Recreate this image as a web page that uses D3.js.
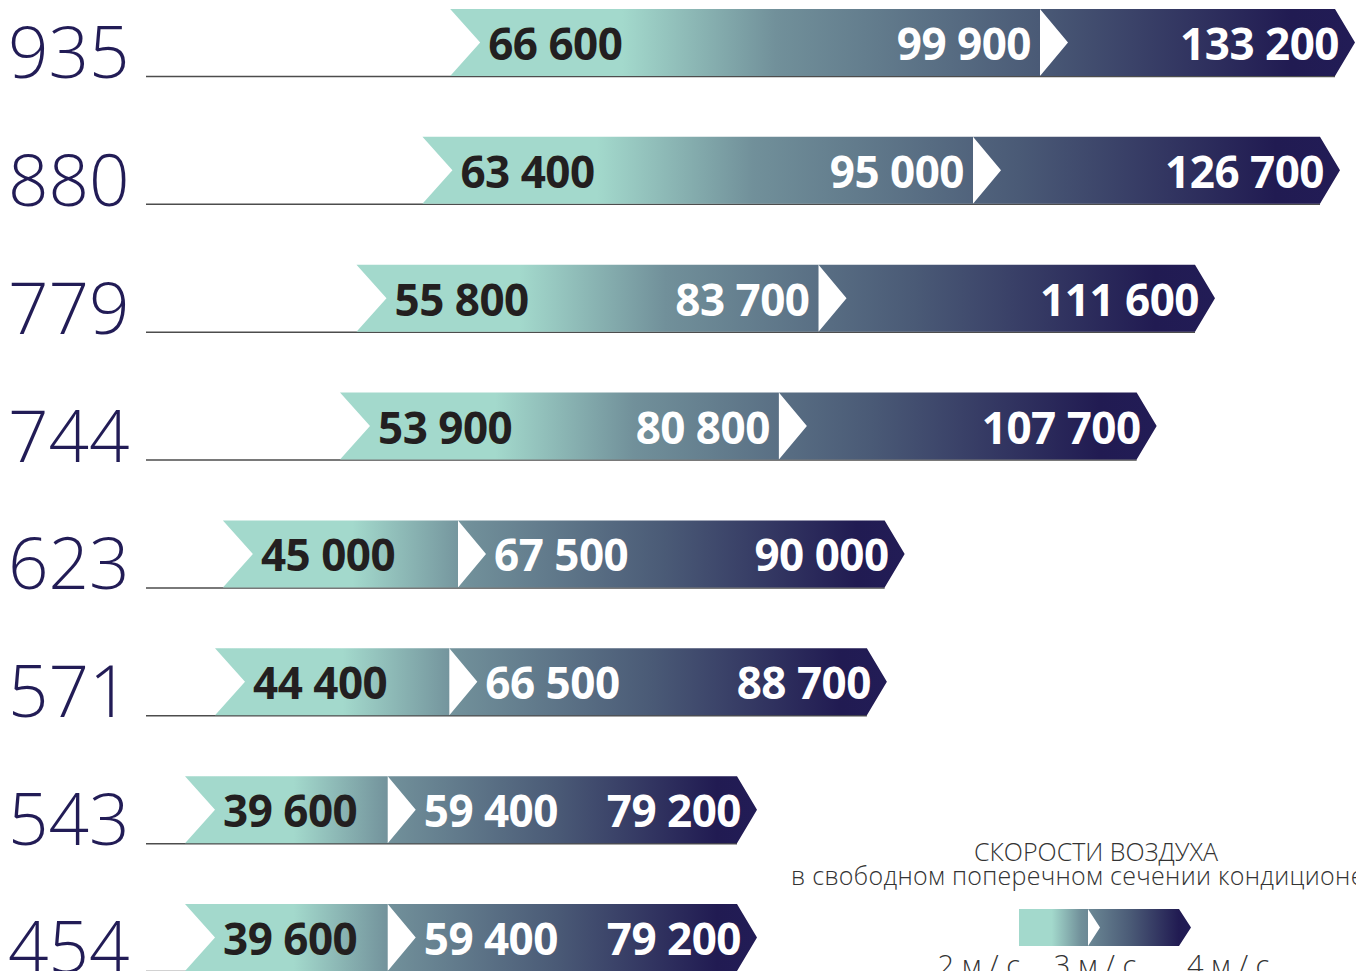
<!DOCTYPE html>
<html lang="ru">
  <head>
    <meta charset="UTF-8" />
    <title>Скорости воздуха</title>
    <style>
      body {
        margin: 0;
        background: #fff;
        font-family: 'Open Sans', 'Noto Sans', sans-serif;
      }
      svg {
        display: block;
      }
      .model-label {
        font-size: 71px;
        font-weight: 300;
        fill: #221c56;
      }
      .value-label {
        font-size: 44px;
        font-weight: 700;
        letter-spacing: -0.5px;
      }
      .legend-text {
        fill: #333;
        font-weight: 300;
      }
    </style>
  </head>
  <body>
    <script src="https://d3js.org/d3.v7.min.js"></script>
    <script>
      // модели (типоразмер) и расход воздуха при 2, 3 и 4 м/с
      const models = ['935', '880', '779', '744', '623', '571', '543', '454'];
      const flow2 = [66600, 63400, 55800, 53900, 45000, 44400, 39600, 39600];
      const flow3 = [99900, 95000, 83700, 80800, 67500, 66500, 59400, 59400];
      const flow4 = [133200, 126700, 111600, 107700, 90000, 88700, 79200, 79200];
      const speeds = [2, 3, 4];
      const speedLabels = ['2 м / с', '3 м / с', '4 м / с'];
      const legendTitle = 'СКОРОСТИ ВОЗДУХА';
      const legendSubtitle = 'в свободном поперечном сечении кондиционера';

      const width = 1356;
      const height = 971;
      const barHeight = 67;
      const notch = 30;
      const midNotch = 28;
      const tipLen = 20;

      const rows = models.map((m, i) => ({ model: m, v2: flow2[i], v3: flow3[i], v4: flow4[i] }));

      // шкала не линейная - как на макете
      const x = d3
        .scaleLinear()
        .domain([39600, 44400, 53900, 67500, 79200, 99900, 111600, 126700, 133200])
        .range([185, 215, 340, 458, 757, 1040, 1215, 1340, 1355]);

      const y = d3.scalePoint().domain(models).range([9, 904]);

      const fmt = (v) => d3.format(',')(v).replace(/,/g, ' ');

      const gradStops = [
        [0, '#a3d9cc'],
        [0.19, '#a3d9cc'],
        [0.36, '#71909a'],
        [0.65, '#4a5a76'],
        [0.93, '#211b52'],
        [1, '#221c56'],
      ];

      const svg = d3.select('body').append('svg').attr('width', width).attr('height', height);
      const defs = svg.append('defs');

      const addGradient = (id, x1, x2) => {
        defs
          .append('linearGradient')
          .attr('id', id)
          .attr('gradientUnits', 'userSpaceOnUse')
          .attr('x1', x1)
          .attr('x2', x2)
          .attr('y1', 0)
          .attr('y2', 0)
          .selectAll('stop')
          .data(gradStops)
          .join('stop')
          .attr('offset', (d) => d[0])
          .attr('stop-color', (d) => d[1]);
      };

      const seg1Path = (s, m, top, h, n) =>
        `M${s},${top}L${m},${top}L${m},${top + h}L${s},${top + h}L${s + n},${top + h / 2}Z`;
      const seg2Path = (m, t, top, h, n, tl) =>
        `M${m},${top}L${t - tl},${top}L${t},${top + h / 2}L${t - tl},${top + h}L${m},${top + h}L${m + n},${top + h / 2}Z`;

      const rowG = svg
        .selectAll('g.row')
        .data(rows)
        .join('g')
        .attr('class', 'row');

      rowG.each(function (d, i) {
        const g = d3.select(this);
        const top = y(d.model);
        const s = x(d.v2);
        const m = x(d.v3);
        const t = x(d.v4);
        const gid = `grad-${i}`;
        addGradient(gid, s, t);

        g.append('text')
          .attr('class', 'model-label')
          .attr('x', 8)
          .attr('y', top + 69)
          .text(d.model);

        g.append('line')
          .attr('x1', 146)
          .attr('x2', t - tipLen)
          .attr('y1', top + barHeight + 0.5)
          .attr('y2', top + barHeight + 0.5)
          .attr('stroke', '#4d4d4d')
          .attr('stroke-width', 1.5);

        g.append('path').attr('d', seg1Path(s, m, top, barHeight, notch)).attr('fill', `url(#${gid})`);
        g.append('path').attr('d', seg2Path(m, t, top, barHeight, midNotch, tipLen)).attr('fill', `url(#${gid})`);

        const base = top + 51;
        g.append('text')
          .attr('class', 'value-label')
          .attr('x', s + 38)
          .attr('y', base)
          .attr('fill', '#231f20')
          .text(fmt(d.v2));

        const inFirst = m - s > 300;
        g.append('text')
          .attr('class', 'value-label')
          .attr('x', inFirst ? m - 9 : m + 36)
          .attr('y', base)
          .attr('text-anchor', inFirst ? 'end' : 'start')
          .attr('fill', '#fff')
          .text(fmt(d.v3));

        g.append('text')
          .attr('class', 'value-label')
          .attr('x', t - 16)
          .attr('y', base)
          .attr('text-anchor', 'end')
          .attr('fill', '#fff')
          .text(fmt(d.v4));
      });

      // легенда
      const lx = d3.scaleLinear().domain(speeds).range([1019, 1088, 1191]);
      const lTop = 909;
      const lH = 37;
      addGradient('grad-legend', lx(2), lx(4));

      const legend = svg.append('g').attr('class', 'legend');
      legend
        .append('text')
        .attr('class', 'legend-text')
        .attr('x', 1096)
        .attr('y', 861)
        .attr('text-anchor', 'middle')
        .attr('font-size', 25)
        .text(legendTitle);
      legend
        .append('text')
        .attr('class', 'legend-text')
        .attr('x', 791)
        .attr('y', 885)
        .attr('font-size', 25)
        .attr('letter-spacing', 0.3)
        .text(legendSubtitle);

      legend.append('path').attr('d', seg1Path(lx(2), lx(3), lTop, lH, 0)).attr('fill', 'url(#grad-legend)');
      legend
        .append('path')
        .attr('d', seg2Path(lx(3), lx(4), lTop, lH, 12, 12))
        .attr('fill', 'url(#grad-legend)');

      const anchors = ['end', 'middle', 'start'];
      const shifts = [1, 7, -4];
      legend
        .selectAll('text.speed')
        .data(speeds)
        .join('text')
        .attr('class', 'legend-text speed')
        .attr('x', (d, i) => lx(d) + shifts[i])
        .attr('y', 976)
        .attr('text-anchor', (d, i) => anchors[i])
        .attr('font-size', 29)
        .text((d, i) => speedLabels[i]);
    </script>
  </body>
</html>
